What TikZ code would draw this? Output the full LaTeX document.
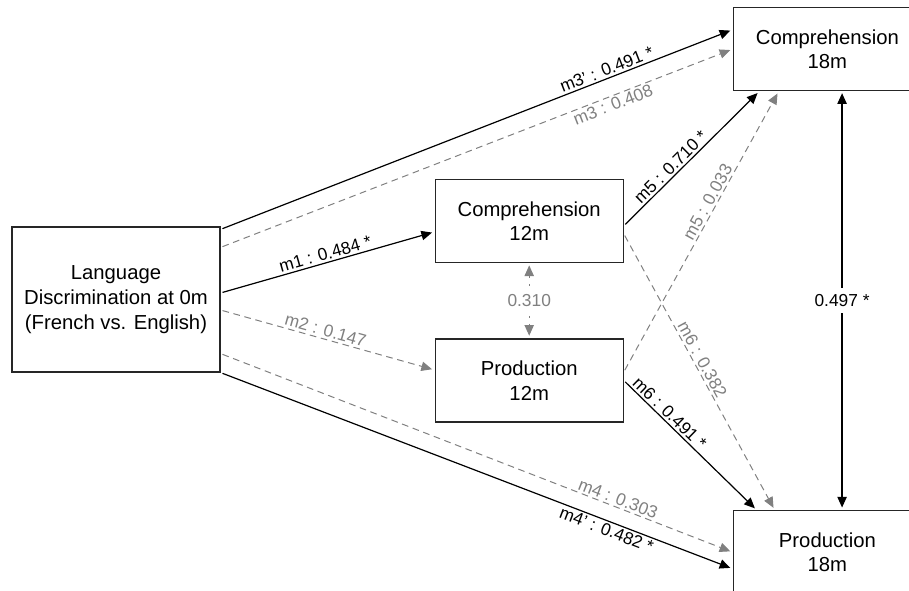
\documentclass[tikz,border=0pt]{standalone}
\usepackage{fontspec}
\setmainfont{Liberation Sans}
\usetikzlibrary{positioning,arrows.meta}
\definecolor{nsgray}{RGB}{128,128,128}

\begin{document}
\begin{tikzpicture}[
  var/.style={rectangle, draw=black!85, line width=0.9pt, text centered, align=center, inner sep=0pt, minimum height=62.25pt, minimum width=141pt, font=\fontsize{15.2}{18.5}\selectfont},
  sig/.style={->, >={Triangle[length=8pt,width=7pt]}, line width=0.9pt, shorten >=2pt, shorten <=1.5pt},
  nsig/.style={sig, nsgray, line width=0.75pt, dash pattern=on 5pt off 3.5pt},
  coef/.style={font=\fontsize{13}{15}\selectfont, sloped, inner sep=1.5pt},
  corr/.style={font=\fontsize{13}{15}\selectfont, fill=white, inner xsep=2pt, inner ysep=5pt}
]
\useasboundingbox (-87pt,-218.625pt) rectangle (594.75pt,224.625pt);

% Variables
\node[var, minimum width=156pt, minimum height=108.75pt] (lang) {Language\\Discrimination at 0m\\(French vs. English)};
\node[var, above right=-27.75pt and 160.5pt of lang] (comp12) {Comprehension\\12m};
\node[var, below=56.25pt of comp12] (prod12) {Production\\12m};
\node[var, above right=66pt and 81.75pt of comp12] (comp18) {Comprehension\\18m};
\node[var, below=314.25pt of comp18] (prod18) {Production\\18m};

% Direct paths
\draw[sig] ([yshift=-2.25pt]lang.north east) -- ([yshift=14.6pt]comp18.west) node[coef, pos=0.76, above] {m3' : 0.491 *};
\draw[nsig] ([yshift=-15.75pt]lang.north east) -- (comp18.west) node[coef, pos=0.76, below] {m3 : 0.408};
\draw[sig] ([yshift=4.9pt]lang.east) -- ([yshift=-7.9pt]comp12.west) node[coef, pos=0.5, above] {m1 : 0.484 *};
\draw[nsig] ([yshift=-7.9pt]lang.east) -- ([yshift=7.9pt]prod12.west) node[coef, pos=0.48, above] {m2 : 0.147};
\draw[nsig] ([yshift=14.25pt]lang.south east) -- (prod18.west) node[coef, pos=0.77, above] {m4 : 0.303};
\draw[sig] (lang.south east) -- ([yshift=-12.4pt]prod18.west) node[coef, pos=0.76, below] {m4' : 0.482 *};

% Mediated paths
\draw[sig] ([yshift=-3.4pt]comp12.east) -- ([xshift=20pt]comp18.south west) node[coef, pos=0.39, above] {m5 : 0.710 *};
\draw[nsig] ([yshift=6.4pt]prod12.east) -- ([xshift=34.5pt]comp18.south west) node[coef, pos=0.59, above] {m5 : 0.033};
\draw[nsig] ([yshift=-9.4pt]comp12.east) -- ([xshift=31.5pt]prod18.north west) node[coef, pos=0.47, above] {m6 : 0.382};
\draw[sig] (prod12.east) -- ([xshift=18pt]prod18.north west) node[coef, pos=0.3, above] {m6 : 0.491 *};

% Correlations
\draw[nsig, <->, dash pattern=on 1.5pt off 4.5pt] (comp12.south) -- (prod12.north) node[midway, corr] {0.310};
\draw[sig, <->] ([xshift=11pt]comp18.south) -- ([xshift=11pt]prod18.north) node[midway, corr] {0.497 *};

\end{tikzpicture}
\end{document}
